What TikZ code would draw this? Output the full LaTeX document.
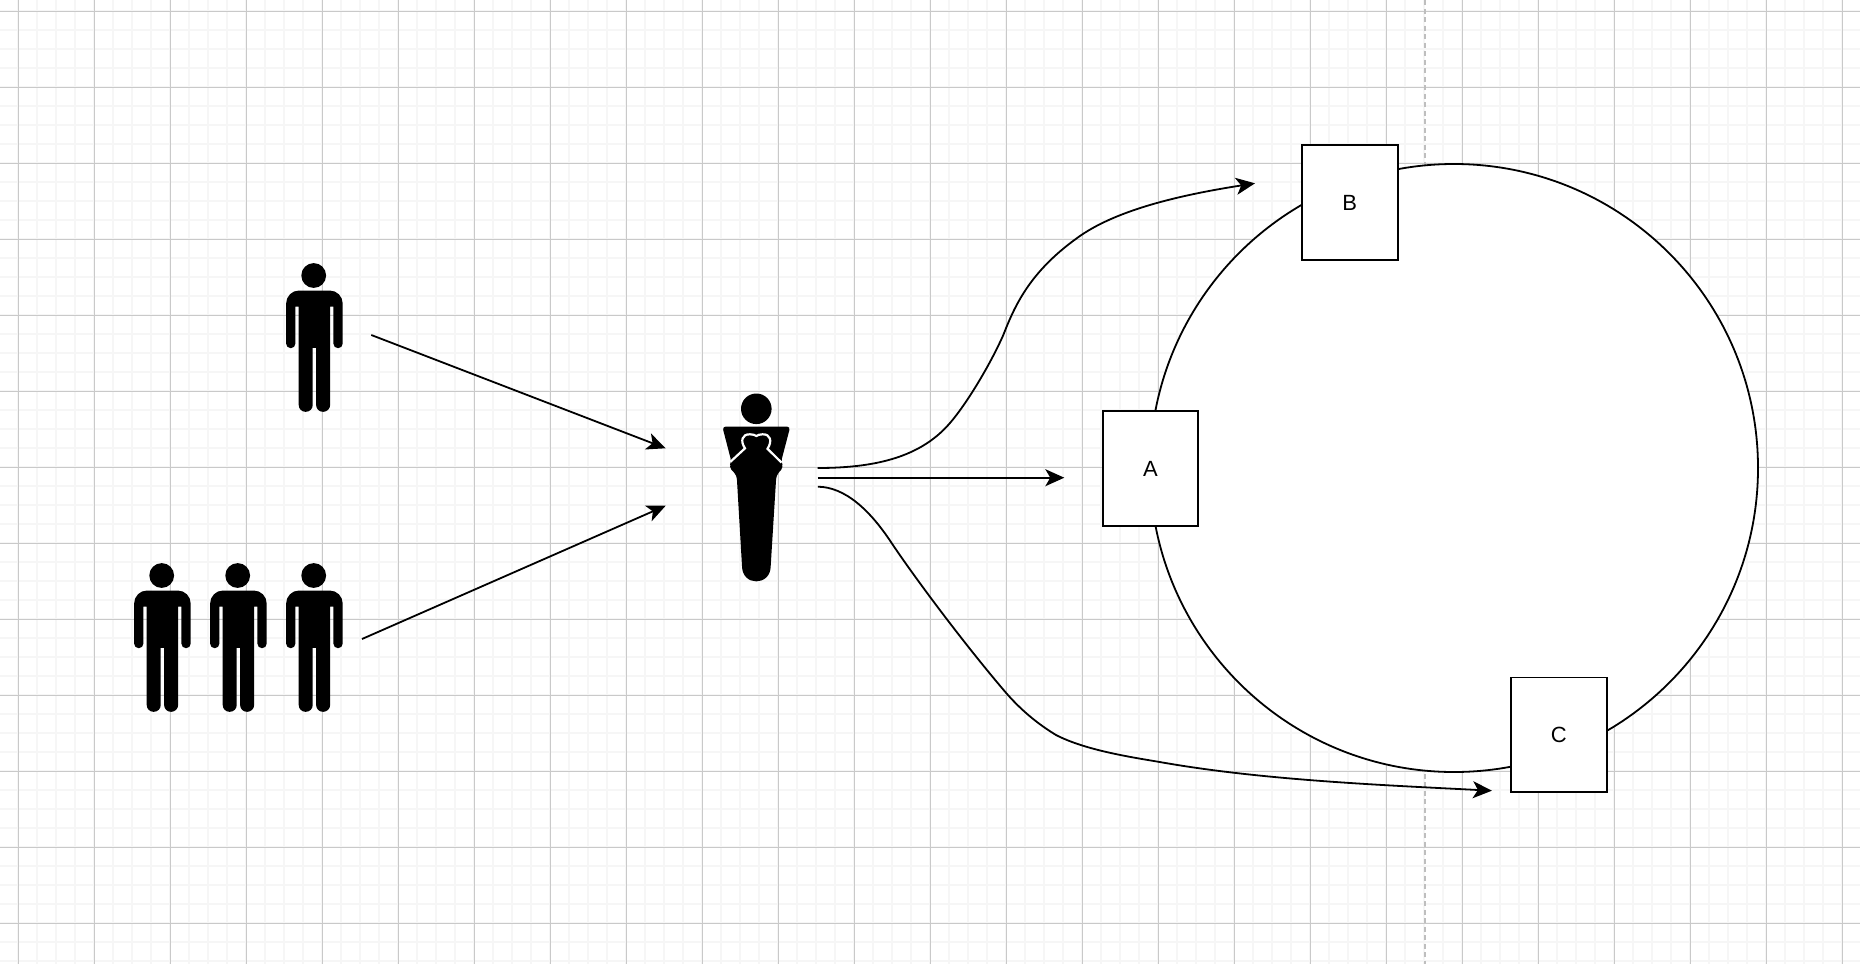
\documentclass[tikz,border=0pt]{standalone}
\usepackage{fontspec}
\setmainfont{Liberation Sans}
\usetikzlibrary{arrows.meta}
\definecolor{gridmajor}{HTML}{C9C9C9}
\definecolor{gridminor}{HTML}{F6F6F6}
\definecolor{guide}{HTML}{BEBEBE}
\tikzset{
  boxnode/.style={draw, fill=white, line width=1.8pt, minimum width=95.6pt, minimum height=114.6pt, inner sep=0pt, font=\fontsize{22}{26}\selectfont},
  arrowline/.style={line width=1.8pt, -{Stealth[length=19pt, width=17pt, inset=5pt]}},
  pics/person/.style={code={
    \fill (0,0) circle (12.4);
    \fill (-15,31) [rounded corners=0pt] -- (-18.3,31) [rounded corners=4.6pt] -- (-18.3,72.7) -- (-27.6,72.7) [rounded corners=13pt] -- (-27.6,15) -- (29,15) [rounded corners=4.6pt] -- (29,72.7) -- (19.7,72.7) [rounded corners=0pt] -- (19.7,31) -- (16.4,31) [rounded corners=6.8pt] -- (16.4,136.3) -- (2.4,136.3) [rounded corners=0pt] -- (2.4,72.3) -- (-1,72.3) [rounded corners=6.8pt] -- (-1,136.3) -- (-15,136.3) [rounded corners=0pt] -- cycle;
  }}
}
\begin{document}
\begin{tikzpicture}[x=1pt, y=-1pt]
\useasboundingbox (0,0) rectangle (1860,964);
\fill[white] (0,0) rectangle (1860,964);

% Grid
\foreach \i in {0,...,97} \draw[gridminor, line width=1.7pt] ({18.3+19*\i},0) -- ({18.3+19*\i},964);
\foreach \i in {0,...,50} \draw[gridminor, line width=1.7pt] (0,{11.3+19*\i}) -- (1860,{11.3+19*\i});
\foreach \i in {0,...,24} \draw[gridmajor, line width=1.1pt] ({18.3+76*\i},0) -- ({18.3+76*\i},964);
\foreach \i in {0,...,12} \draw[gridmajor, line width=1.1pt] (0,{11.3+76*\i}) -- (1860,{11.3+76*\i});

% Guide
\draw[guide, line width=1.4pt, dash pattern=on 5pt off 3.5pt] (1425,0) -- (1425,964);

% People
\pic (single) at (313.7,275.5) {person};
\pic (crowdA) at (161.7,575.5) {person};
\pic (crowdB) at (237.7,575.5) {person};
\pic (crowdC) at (313.7,575.5) {person};

% Central figure
\fill (756.3,408.8) circle (15.3);
\fill[rounded corners=3.5pt] (722.3,426.5) -- (790.3,426.5) -- (781,462) -- (783.5,467) -- (776.3,475.5) [sharp corners] -- (770.7,566) .. controls (770.7,586.5) and (742,586.5) .. (742,566) [rounded corners=3.5pt] -- (736.7,475.5) -- (729,467) -- (731.5,462) -- cycle;
\draw[white, line width=2.2pt] (730.5,461.7) -- (745,448.3) .. controls (740,441) and (742,434) .. (750,434.3) .. controls (753,434.3) and (755,435) .. (756.3,436) .. controls (758,435) and (760,434.3) .. (762.5,434.3) .. controls (770.5,434) and (772.5,441) .. (767.5,448.8) -- (781.5,462.5);

% Ring and boxes
\node[circle, draw, fill=white, line width=1.8pt, minimum size=608pt, inner sep=0pt] (ring) at (1454,468) {};
\node[boxnode] (boxA) at (1150.5,468.6) {A};
\node[boxnode] (boxB) at (1349.8,202.6) {B};
\node[boxnode] (boxC) at (1558.8,734.8) {C};

% Arrow ends
\coordinate (singleOut) at (371.3,335);
\coordinate (crowdOut) at (362,639);
\coordinate (upperIn) at (665.7,448.3);
\coordinate (lowerIn) at (665.7,505.7);
\coordinate (outB) at (817.7,468);
\coordinate (outA) at (817.7,477.7);
\coordinate (outC) at (817.9,486.7);
\coordinate (tipB) at (1255,183.3);
\coordinate (tipA) at (1064.3,477.7);
\coordinate (tipC) at (1491.9,790.7);

% Arrows
\draw[arrowline] (singleOut) -- (upperIn);
\draw[arrowline] (crowdOut) -- (lowerIn);
\draw[arrowline] (outA) -- (tipA);
\draw[arrowline] (outB) .. controls (880,468) and (920,455) .. (946.7,426.7) .. controls (965,407) and (990,365) .. (1003.3,335) .. controls (1015,305) and (1030,272) .. (1076.7,238.3) .. controls (1115,210) and (1180,195) .. (tipB);
\draw[arrowline] (outC) .. controls (845,487) and (870,510) .. (891.8,543.3) .. controls (915,578) and (965,645) .. (1006.6,693.5) .. controls (1022,711) and (1038,724) .. (1056,735) .. controls (1085,750) and (1130,757) .. (1158,761.7) .. controls (1260,780) and (1380,785) .. (tipC);
\end{tikzpicture}
\end{document}
